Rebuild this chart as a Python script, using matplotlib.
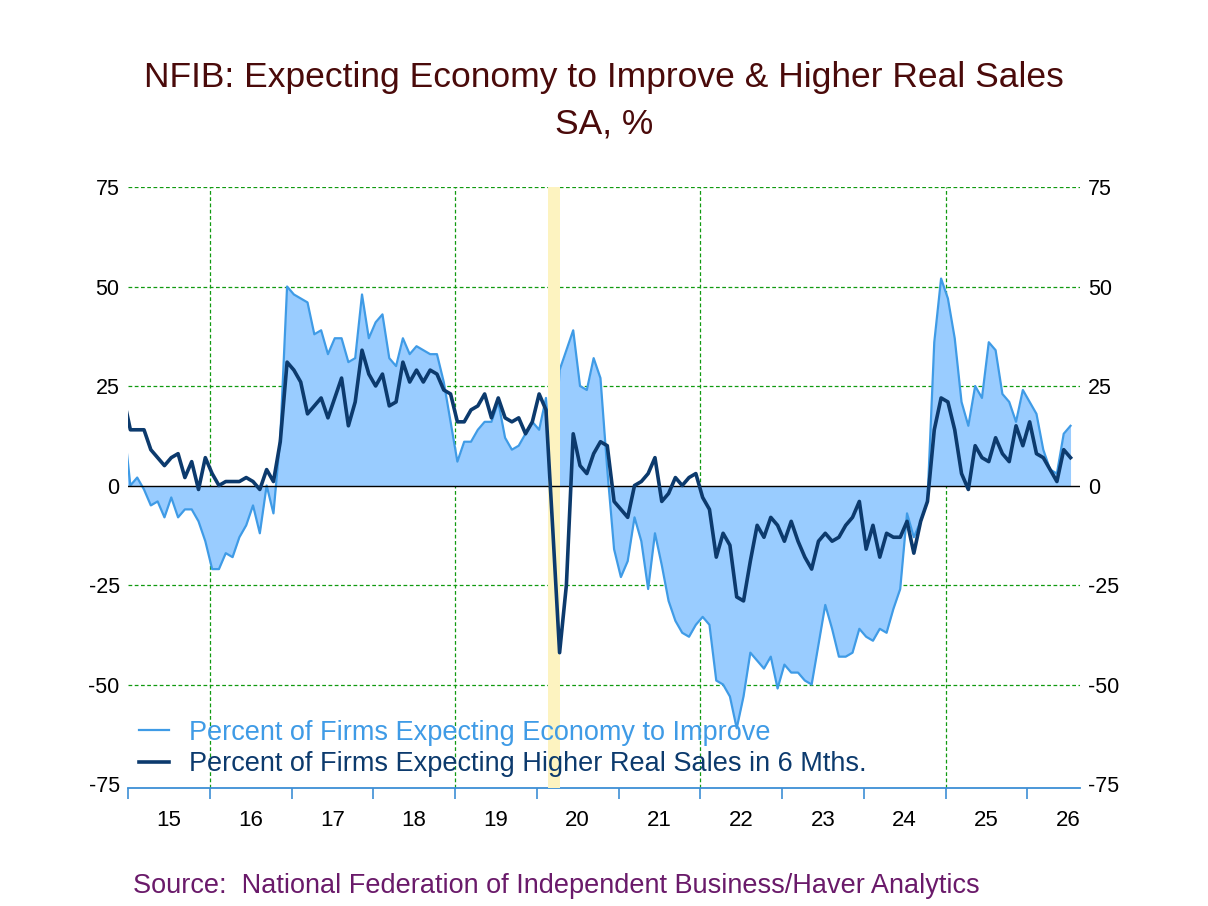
import numpy as np
import pandas as pd
import matplotlib
matplotlib.use("Agg")
from matplotlib import pyplot as plt

# monthly data, Dec 2014 .. Jul 2026
start_month = "2014-12"

economy = [16,
    0, 2, -1, -5, -4, -8, -3, -8, -6, -6, -9, -14,
    -21, -21, -17, -18, -13, -10, -5, -12, 0, -7, 12, 50,
    48, 47, 46, 38, 39, 33, 37, 37, 31, 32, 48, 37,
    41, 43, 32, 30, 37, 33, 35, 34, 33, 33, 26, 16,
    6, 11, 11, 14, 16, 16, 21, 12, 9, 10, 13, 16,
    14, 22, 0, 29, 34, 39, 25, 24, 32, 27, 4, -16,
    -23, -19, -8, -14, -26, -12, -20, -29, -34, -37, -38, -35,
    -33, -35, -49, -50, -53, -61, -53, -42, -44, -46, -43, -51,
    -45, -47, -47, -49, -50, -40, -30, -36, -43, -43, -42, -36,
    -38, -39, -36, -37, -31, -26, -7, -13, -9, -4, 36, 52,
    47, 37, 21, 15, 25, 22, 36, 34, 23, 21, 16, 24,
    21, 18, 9, 4, 3, 13, 15]

sales = [22,
    14, 14, 14, 9, 7, 5, 7, 8, 2, 6, -1, 7,
    3, 0, 1, 1, 1, 2, 1, -1, 4, 1, 11, 31,
    29, 26, 18, 20, 22, 17, 22, 27, 15, 21, 34, 28,
    25, 28, 20, 21, 31, 26, 29, 26, 29, 28, 24, 23,
    16, 16, 19, 20, 23, 17, 22, 17, 16, 17, 13, 16,
    23, 19, -11, -42, -25, 13, 5, 3, 8, 11, 10, -4,
    -6, -8, 0, 1, 3, 7, -4, -2, 2, 0, 2, 3,
    -3, -6, -18, -12, -15, -28, -29, -19, -10, -13, -8, -10,
    -14, -9, -14, -18, -21, -14, -12, -14, -13, -10, -8, -4,
    -16, -10, -18, -12, -13, -13, -9, -17, -9, -4, 14, 22,
    21, 14, 3, -1, 10, 7, 6, 12, 8, 6, 15, 10,
    16, 8, 7, 4, 1, 9, 7]

years = list(range(2015, 2027))
year_labels = [str(y)[2:] for y in years]
recession = (2020.135, 2020.281)

dates = pd.date_range(start_month, periods=len(economy), freq="MS")
x = dates.year + (dates.month - 1 + 0.35) / 12.0
economy = np.array(economy, dtype=float)
sales = np.array(sales, dtype=float)

light = "#3f9be6"
fill_col = "#99ccff"
dark = "#0c3a6d"
green = "#109a10"
axis_blue = "#3d8fd6"

plt.rcParams["font.family"] = ["Liberation Sans", "DejaVu Sans"]
plt.rcParams["axes.unicode_minus"] = False

fig = plt.figure(figsize=(12.08, 9.06), dpi=100)
ax = fig.add_axes([128 / 1208, 1 - 788 / 906, 952 / 1208, 601 / 906])

ax.set_xlim(2015.0, 2026.645)
ax.set_ylim(-76, 75)

# grid
for yv in [75, 50, 25, -25, -50]:
    ax.axhline(yv, color=green, lw=0.9, ls=(0, (3, 2)), zorder=1)
for yr in [2016, 2019, 2022, 2025]:
    ax.axvline(yr, color=green, lw=0.9, ls=(0, (3, 2)), zorder=1)

ax.fill_between(x, 0, economy, color=fill_col, lw=0, zorder=2)
ax.plot(x, economy, color=light, lw=1.6, zorder=3,
        label="Percent of Firms Expecting Economy to Improve")
ax.axvspan(recession[0], recession[1], color="#fdf3c0", lw=0, zorder=4)
ax.axhline(0, color="black", lw=1.0, zorder=5)
ax.plot(x, sales, color=dark, lw=2.6, zorder=6,
        label="Percent of Firms Expecting Higher Real Sales in 6 Mths.")

for side in ["top", "left", "right"]:
    ax.spines[side].set_visible(False)
ax.spines["bottom"].set_color(axis_blue)
ax.spines["bottom"].set_linewidth(1.3)

ax.set_xticks(years)
ax.set_xticklabels([])
ax.set_xticks([y + 0.5 for y in years], minor=True)
ax.set_xticklabels(year_labels, minor=True)
ax.tick_params(axis="x", which="major", direction="out", length=8, width=1.2, color=axis_blue)
ax.tick_params(axis="x", which="minor", length=0, labelsize=16, pad=16)

ax.set_yticks([75, 50, 25, 0, -25, -50, -75])
ax.tick_params(axis="y", length=0, labelsize=15.5, pad=6, labelleft=True, labelright=True)

leg = ax.legend(loc="lower left", bbox_to_anchor=(0.0, 0.0), frameon=False,
                fontsize=19.5, handlelength=1.1, handletextpad=0.75,
                labelspacing=0.2, borderpad=0.3, borderaxespad=0.1)
for txt, col in zip(leg.get_texts(), [light, dark]):
    txt.set_color(col)
leg.set_zorder(7)

fig.text(0.5, 1 - 78 / 906, "NFIB: Expecting Economy to Improve & Higher Real Sales",
         ha="center", va="center", fontsize=25.5, color="#4a0a0a")
fig.text(0.5, 1 - 124 / 906, "SA, %", ha="center", va="center", fontsize=25.5,
         color="#4a0a0a")
fig.text(133 / 1208, 1 - 886 / 906,
         "Source:  National Federation of Independent Business/Haver Analytics",
         ha="left", va="center", fontsize=19.5, color="#6a1a6a")

fig.savefig("out.png", dpi=100)
